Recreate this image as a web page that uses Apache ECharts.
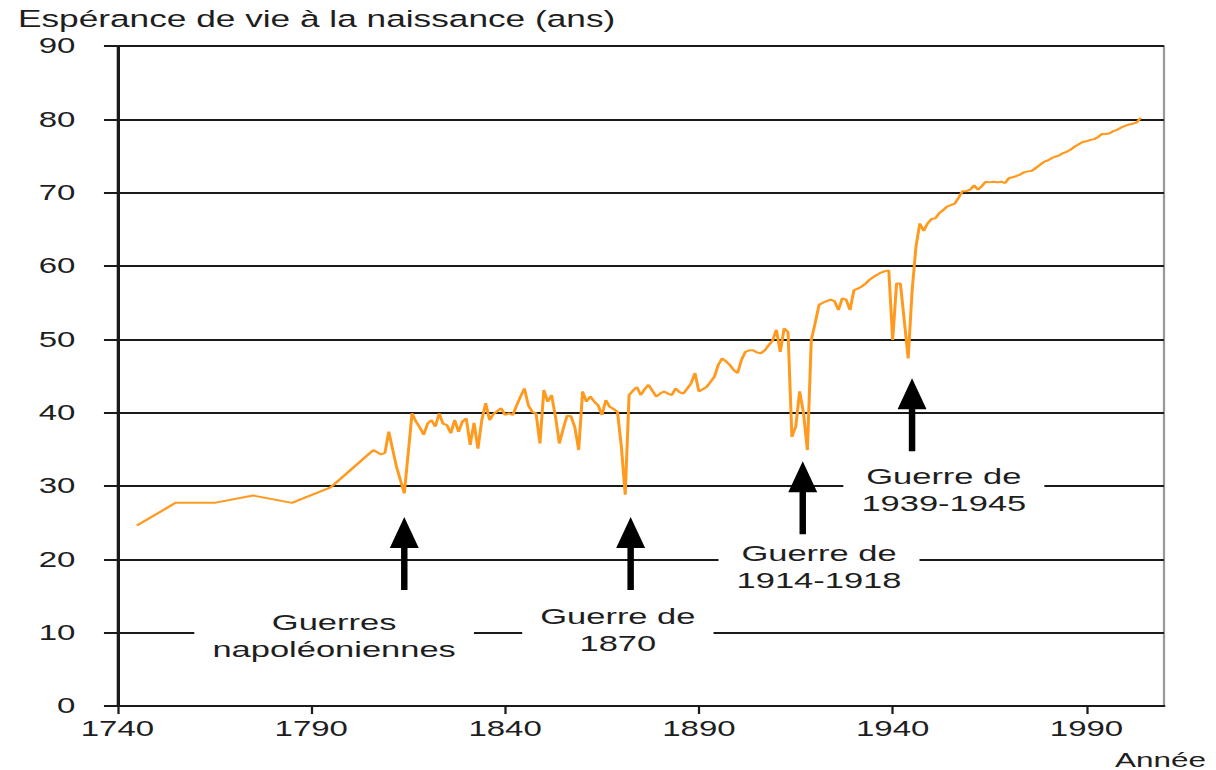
<!DOCTYPE html>
<html>
<head>
<meta charset="utf-8">
<title>Espérance de vie à la naissance</title>
<script src="https://cdn.jsdelivr.net/npm/echarts@6/dist/echarts.min.js"></script>
<style>
  html, body { margin: 0; padding: 0; background: #fff; overflow: hidden; }
  /* the source scan is stretched 1.5x horizontally, so draw narrow and stretch */
  #chart { width: 811px; height: 770px; transform: scaleX(1.5); transform-origin: 0 0; }
</style>
</head>
<body>
<div id="chart"></div>
<script>
// decade averages before 1806, then one value per year
const decadeYears  = [1745, 1755, 1765, 1775, 1785, 1795]
const decadeValues = [24.6, 27.7, 27.7, 28.7, 27.7, 29.8]

const annualStart = 1806
const annualValues = [
  34.9, 34.6, 34.3, 34.5,                                       // 1806-1809
  37.4, 35.0, 32.6, 30.8, 29.0, 34.4, 39.9, 38.8, 38.0, 37.0,   // 1810
  38.5, 39.0, 38.1, 39.9, 38.5, 38.3, 37.2, 39.0, 37.4, 38.8,   // 1820
  39.2, 35.6, 38.6, 35.1, 39.0, 41.3, 39.0, 39.8, 40.2, 40.6,   // 1830
  39.7, 39.9, 39.7, 41.0, 42.2, 43.3, 41.0, 40.1, 39.9, 35.8,   // 1840
  43.1, 41.5, 42.4, 39.5, 35.8, 37.8, 39.6, 39.5, 38.0, 34.9,   // 1850
  42.9, 41.5, 42.2, 41.5, 41.0, 39.7, 41.7, 40.8, 40.5, 40.1,   // 1860
  35.4, 28.8, 42.4, 43.0, 43.5, 42.4, 43.2, 43.8, 43.0, 42.2,   // 1870
  42.6, 42.9, 42.6, 42.4, 43.3, 42.8, 42.6, 43.3, 44.0, 45.4,   // 1880
  42.9, 43.2, 43.5, 44.2, 44.9, 46.5, 47.4, 47.0, 46.5, 45.8,   // 1890
  45.4, 47.2, 48.3, 48.5, 48.5, 48.2, 48.1, 48.5, 49.2, 49.8,   // 1900
  51.3, 48.3, 51.5, 51.0, 36.7, 38.1, 42.9, 39.9, 34.9, 49.9,   // 1910
  52.2, 54.7, 55.0, 55.2, 55.4, 55.2, 54.0, 55.6, 55.4, 54.0,   // 1920
  56.7, 56.9, 57.2, 57.6, 58.1, 58.5, 58.8, 59.1, 59.3, 59.4,   // 1930
  49.9, 57.6, 57.6, 52.5, 47.4, 56.5, 62.6, 65.8, 64.8, 65.8,   // 1940
  66.4, 66.5, 67.2, 67.6, 68.1, 68.3, 68.5, 69.3, 70.2, 70.2,   // 1950
  70.4, 71.0, 70.4, 70.9, 71.5, 71.4, 71.5, 71.4, 71.5, 71.3,   // 1960
  72.0, 72.1, 72.3, 72.5, 72.8, 72.9, 73.0, 73.4, 73.8, 74.2,   // 1970
  74.4, 74.7, 74.9, 75.1, 75.4, 75.6, 75.9, 76.3, 76.6, 76.9,   // 1980
  77.0, 77.2, 77.3, 77.6, 78.0, 78.0, 78.1, 78.4, 78.6, 78.9,   // 1990
  79.1, 79.3, 79.4, 79.6, 80.2,                                 // 2000-2004
]

const xTicks = [1740, 1790, 1840, 1890, 1940, 1990]
const yTicks = [0, 10, 20, 30, 40, 50, 60, 70, 80, 90]

// arrow centres and text block centres, in (year, years of life)
const arrowYears  = [1814, 1872.4, 1916.8, 1945]
const arrowValues = [20.8, 20.8, 28.4, 39.7]

const noteTexts  = ['Guerres\nnapoléoniennes', 'Guerre de\n1870', 'Guerre de\n1914-1918', 'Guerre de\n1939-1945']
const noteYears  = [1795.9, 1869.1, 1921.0, 1953.2]
const noteValues = [9.7, 10.4, 19.0, 29.5]

const FONT = "'Liberation Sans', Arial, sans-serif"
const C = { line: '#ff9a1f', ink: '#1e1e1e', grid: '#1a1a1a', frame: '#9a9a9a' }

const years  = decadeYears.concat(annualValues.map((_, i) => annualStart + i))
const values = decadeValues.concat(annualValues)
const points = years.map((y, i) => [y, values[i]])

const ARROW = 'path://M9.65,0 L19.3,31 L11.8,31 L11.8,73 L7.5,73 L7.5,31 L0,31 Z'

const marks = []
arrowYears.forEach((y, i) => {
  marks.push({
    coord: [y, arrowValues[i]],
    symbol: ARROW,
    symbolSize: [19.3, 73],
    itemStyle: { color: '#000' },
    label: { show: false },
  })
})
noteTexts.forEach((t, i) => {
  marks.push({
    coord: [noteYears[i], noteValues[i]],
    symbol: 'rect',
    symbolSize: 1,
    itemStyle: { color: 'rgba(0,0,0,0)' },
    label: {
      show: true,
      position: 'inside',
      formatter: t,
      color: C.ink,
      fontFamily: FONT,
      fontSize: 23,
      lineHeight: 27,
      align: 'center',
      backgroundColor: '#fff',
      padding: [0, 12],
    },
  })
})

const chart = echarts.init(document.getElementById('chart'), null, { renderer: 'svg' })

chart.setOption({
  animation: false,
  title: {
    text: 'Espérance de vie à la naissance (ans)',
    left: 12,
    top: 7,
    padding: 0,
    textStyle: { color: C.ink, fontFamily: FONT, fontSize: 23.5, fontWeight: 'normal' },
  },
  grid: {
    left: 78.3, right: 35, top: 46, bottom: 64,
    show: true, borderColor: C.frame, borderWidth: 1.5,
    outerBoundsMode: 'none',
  },
  xAxis: {
    type: 'value',
    min: 1740,
    max: 2010,
    name: 'Année',
    nameLocation: 'end',
    nameGap: 28,
    nameTextStyle: {
      color: C.ink, fontFamily: FONT, fontSize: 21,
      align: 'right', verticalAlign: 'top', padding: [43, 0, 0, 0],
    },
    axisLine: { show: true, onZero: false, lineStyle: { color: C.grid, width: 2 } },
    axisTick: { show: true, length: 8, customValues: xTicks, lineStyle: { color: C.grid, width: 1.5 } },
    axisLabel: {
      customValues: xTicks, margin: 12, color: C.ink, fontFamily: FONT, fontSize: 22,
      formatter: v => String(v),
    },
    splitLine: { show: false },
  },
  yAxis: {
    type: 'value',
    min: 0,
    max: 90,
    interval: 10,
    axisLine: { show: true, lineStyle: { color: C.grid, width: 2 } },
    axisTick: { show: true, length: 9, customValues: yTicks, lineStyle: { color: C.grid, width: 2 } },
    axisLabel: { customValues: yTicks, margin: 28, color: C.ink, fontFamily: FONT, fontSize: 22 },
    splitLine: { show: true, lineStyle: { color: C.grid, width: 2 } },
  },
  series: [{
    type: 'line',
    data: points,
    symbol: 'none',
    z: 3,
    lineStyle: { color: C.line, width: 2 },
    markPoint: { silent: true, animation: false, data: marks },
  }],
})
</script>
</body>
</html>
